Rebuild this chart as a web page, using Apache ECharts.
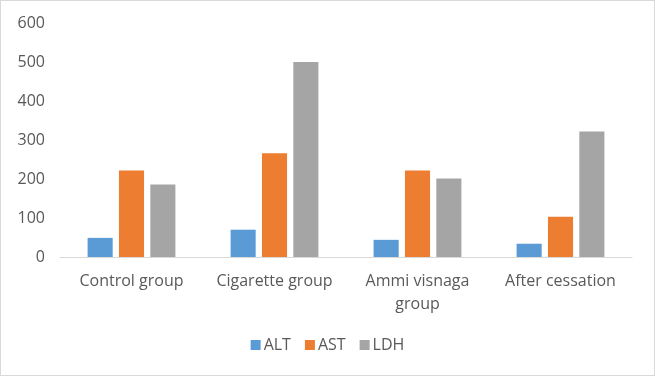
<!DOCTYPE html>
<html>
<head>
<meta charset="utf-8">
<script src="https://cdn.jsdelivr.net/npm/echarts@6/dist/echarts.min.js"></script>
<style>
  html, body { margin: 0; padding: 0; background: #fff; }
  #chart { width: 655px; height: 376px; box-sizing: border-box; border: 1px solid #d9d9d9; }
</style>
</head>
<body>
<div id="chart"></div>
<script>
// categories and values
var groups = ['Control group', 'Cigarette group', 'Ammi visnaga\ngroup', 'After cessation'];
var altValues = [49, 70, 44, 34];
var astValues = [222, 266, 222, 103];
var ldhValues = [186, 500, 201, 322];
var yTicks = [0, 100, 200, 300, 400, 500, 600];

var textColor = '#595959';
var fontName = 'Open Sans';

var chart = echarts.init(document.getElementById('chart'));

var option = {
    animation: false,
    color: ['#5b9bd5', '#ed7d31', '#a5a5a5'],
    textStyle: { fontFamily: fontName },
    grid: {
        left: 59,
        right: 22,
        top: 22,
        bottom: 118
    },
    legend: {
        bottom: 17,
        left: 'center',
        itemWidth: 10,
        itemHeight: 10,
        itemGap: 14,
        icon: 'rect',
        textStyle: { color: textColor, fontSize: 16, fontFamily: fontName, padding: [0, 0, 0, -2] },
        data: ['ALT', 'AST', 'LDH']
    },
    xAxis: {
        type: 'category',
        data: groups,
        axisLine: { lineStyle: { color: '#d9d9d9', width: 1 } },
        axisTick: { show: false },
        axisLabel: {
            color: textColor,
            fontSize: 16,
            lineHeight: 23,
            margin: 13,
            interval: 0
        }
    },
    yAxis: {
        type: 'value',
        min: yTicks[0],
        max: yTicks[yTicks.length - 1],
        interval: 100,
        splitLine: { show: false },
        axisLine: { show: false },
        axisTick: { show: false },
        axisLabel: { color: textColor, fontSize: 16, margin: 15 }
    },
    series: [
        { name: 'ALT', type: 'bar', data: altValues, barGap: '25%', barCategoryGap: '38.6%' },
        { name: 'AST', type: 'bar', data: astValues },
        { name: 'LDH', type: 'bar', data: ldhValues }
    ]
};

chart.setOption(option);
</script>
</body>
</html>
